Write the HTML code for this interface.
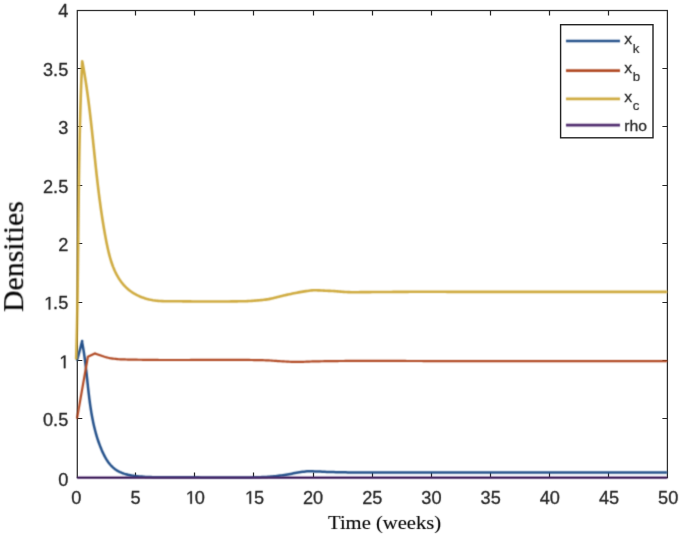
<!DOCTYPE html>
<html><head><meta charset="utf-8"><title>Densities</title>
<style>html,body{margin:0;padding:0;background:#fff;width:685px;height:536px;overflow:hidden;font-family:"Liberation Sans",sans-serif}svg{display:block}</style>
</head><body>
<svg width="685" height="536" viewBox="0 0 685 536">
<defs><filter id="bl" color-interpolation-filters="sRGB" filterUnits="userSpaceOnUse" x="0" y="0" width="685" height="536"><feConvolveMatrix order="3" kernelMatrix="0.04 0.12 0.04 0.12 0.36 0.12 0.04 0.12 0.04" divisor="1" edgeMode="none" preserveAlpha="false"/></filter><filter id="bt" color-interpolation-filters="sRGB" filterUnits="userSpaceOnUse" x="0" y="0" width="685" height="536"><feConvolveMatrix order="3" kernelMatrix="0.01 0.08 0.01 0.08 0.64 0.08 0.01 0.08 0.01" divisor="1" edgeMode="none" preserveAlpha="false"/></filter></defs>
<rect width="685" height="536" fill="#fff"/>
<g>
<rect x="77.30" y="10.50" width="590.10" height="467.10" fill="none" stroke="#2e2e2e" stroke-width="1.25"/>
<path d="M135.50,477.60v-5.00M135.50,10.50v5.00M194.50,477.60v-5.00M194.50,10.50v5.00M253.50,477.60v-5.00M253.50,10.50v5.00M313.50,477.60v-5.00M313.50,10.50v5.00M372.50,477.60v-5.00M372.50,10.50v5.00M431.50,477.60v-5.00M431.50,10.50v5.00M490.50,477.60v-5.00M490.50,10.50v5.00M549.50,477.60v-5.00M549.50,10.50v5.00M608.50,477.60v-5.00M608.50,10.50v5.00M77.30,418.50h5.00M667.40,418.50h-5.00M77.30,360.50h5.00M667.40,360.50h-5.00M77.30,302.50h5.00M667.40,302.50h-5.00M77.30,243.50h5.00M667.40,243.50h-5.00M77.30,185.50h5.00M667.40,185.50h-5.00M77.30,126.50h5.00M667.40,126.50h-5.00M77.30,68.50h5.00M667.40,68.50h-5.00" stroke="#262626" stroke-width="1.2" fill="none"/>
</g>
<g filter="url(#bl)">
<path d="M77.00,360.60 82.20,341.00 L82.20,341.00 82.08,342.19 82.28,343.19 82.47,344.19 82.66,345.20 82.84,346.20 83.02,347.21 83.19,348.22 83.36,349.23 83.53,350.24 83.69,351.26 83.85,352.28 84.00,353.29 84.16,354.31 84.31,355.34 84.45,356.36 84.59,357.39 84.74,358.41 84.87,359.44 85.01,360.47 85.14,361.50 85.27,362.53 85.40,363.57 85.53,364.60 85.65,365.64 85.77,366.67 85.90,367.71 86.02,368.75 86.13,369.79 86.25,370.83 86.37,371.87 86.48,372.92 86.60,373.96 86.71,375.00 86.82,376.05 86.93,377.09 87.05,378.14 87.16,379.18 87.27,380.23 87.38,381.28 87.49,382.32 87.60,383.37 87.72,384.42 87.83,385.47 87.94,386.52 88.06,387.56 88.17,388.61 88.29,389.66 88.41,390.71 88.53,391.76 88.65,392.81 88.77,393.85 88.89,394.90 89.02,395.95 89.14,397.00 89.27,398.04 89.40,399.09 89.54,400.13 89.67,401.18 89.81,402.22 89.95,403.27 90.10,404.31 90.25,405.35 90.40,406.40 90.55,407.44 90.71,408.48 90.87,409.52 91.03,410.55 91.20,411.59 91.37,412.63 91.55,413.66 91.73,414.70 91.91,415.73 92.10,416.76 92.29,417.79 92.49,418.82 92.69,419.84 92.90,420.87 93.11,421.89 93.33,422.92 93.55,423.94 93.78,424.96 94.01,425.97 94.25,426.99 94.49,428.00 94.74,429.02 95.00,430.03 95.26,431.03 95.53,432.04 95.81,433.04 96.09,434.05 96.38,435.04 96.67,436.04 96.97,437.04 97.28,438.03 97.60,439.02 97.92,440.01 98.25,440.99 98.59,441.98 98.94,442.96 99.29,443.94 99.65,444.91 100.02,445.88 100.40,446.85 100.79,447.82 101.18,448.78 101.58,449.75 102.00,450.70 102.42,451.66 102.85,452.61 103.29,453.55 103.75,454.49 104.21,455.41 104.69,456.33 105.18,457.24 105.69,458.14 106.21,459.02 106.75,459.90 107.31,460.75 107.88,461.59 108.47,462.42 109.08,463.22 109.71,464.01 110.36,464.78 111.03,465.52 111.72,466.24 112.44,466.94 113.18,467.62 113.94,468.27 114.73,468.89 115.54,469.49 116.38,470.06 117.25,470.59 118.14,471.10 119.06,471.58 120.00,472.04 120.96,472.46 121.93,472.86 122.93,473.24 123.94,473.59 124.97,473.92 126.01,474.22 127.06,474.50 128.12,474.77 129.19,475.01 130.27,475.23 131.35,475.43 132.44,475.62 133.52,475.79 134.61,475.94 135.70,476.07 136.79,476.19 137.87,476.30 138.94,476.39 140.01,476.47 141.07,476.54 142.12,476.60 143.16,476.65 144.19,476.69 145.00,476.90 L145.00,476.90 146.50,476.95 148.00,477.00 149.50,477.05 151.00,477.10 152.50,477.15 154.00,477.20 155.50,477.24 157.00,477.27 158.50,477.29 160.00,477.30 161.50,477.30 163.00,477.31 164.50,477.31 166.00,477.32 167.50,477.32 169.00,477.32 170.50,477.33 172.00,477.33 173.50,477.33 175.00,477.34 176.50,477.34 178.00,477.34 179.50,477.34 181.00,477.35 182.50,477.35 184.00,477.35 185.50,477.36 187.00,477.36 188.50,477.36 190.00,477.36 191.50,477.36 193.00,477.37 194.50,477.37 196.00,477.37 197.50,477.37 199.00,477.37 200.50,477.38 202.00,477.38 203.50,477.38 205.00,477.38 206.50,477.38 208.00,477.38 209.50,477.38 211.00,477.39 212.50,477.39 214.00,477.39 215.50,477.39 217.00,477.39 218.50,477.39 220.00,477.39 221.50,477.39 223.00,477.39 224.50,477.39 226.00,477.40 227.50,477.40 229.00,477.40 230.50,477.40 232.00,477.40 233.50,477.40 235.00,477.40 236.50,477.40 238.00,477.40 239.50,477.40 241.00,477.40 242.50,477.40 244.00,477.40 245.50,477.40 247.00,477.40 248.50,477.40 250.00,477.40 251.50,477.39 253.00,477.37 254.50,477.34 256.00,477.30 257.50,477.26 259.00,477.21 260.50,477.15 262.00,477.10 263.50,477.04 265.00,476.96 266.50,476.88 268.00,476.78 269.50,476.67 271.00,476.55 272.50,476.42 274.00,476.29 275.50,476.15 277.00,475.99 278.50,475.81 280.00,475.60 281.50,475.38 283.00,475.15 284.50,474.91 286.00,474.66 287.50,474.41 289.00,474.16 290.50,473.92 292.00,473.65 293.50,473.35 295.00,473.06 296.50,472.77 298.00,472.50 299.50,472.27 301.00,472.07 302.50,471.86 304.00,471.67 305.50,471.50 307.00,471.37 308.50,471.30 310.00,471.30 311.50,471.33 313.00,471.36 314.50,471.41 316.00,471.46 317.50,471.51 319.00,471.57 320.50,471.62 322.00,471.68 323.50,471.74 325.00,471.81 326.50,471.88 328.00,471.94 329.50,471.99 331.00,472.03 332.50,472.06 334.00,472.10 335.50,472.14 337.00,472.17 338.50,472.21 340.00,472.24 341.50,472.27 343.00,472.30 344.50,472.33 346.00,472.36 347.50,472.38 349.00,472.41 350.50,472.43 352.00,472.45 353.50,472.46 355.00,472.48 356.50,472.49 358.00,472.50 359.50,472.50 361.00,472.50 362.50,472.50 364.00,472.50 365.50,472.50 367.00,472.51 368.50,472.51 370.00,472.51 371.50,472.51 373.00,472.51 374.50,472.51 376.00,472.51 377.50,472.51 379.00,472.52 380.50,472.52 382.00,472.52 383.50,472.52 385.00,472.52 386.50,472.52 388.00,472.52 389.50,472.52 391.00,472.52 392.50,472.53 394.00,472.53 395.50,472.53 397.00,472.53 398.50,472.53 400.00,472.53 401.50,472.53 403.00,472.53 404.50,472.53 406.00,472.53 407.50,472.54 409.00,472.54 410.50,472.54 412.00,472.54 413.50,472.54 415.00,472.54 416.50,472.54 418.00,472.54 419.50,472.54 421.00,472.54 422.50,472.55 424.00,472.55 425.50,472.55 427.00,472.55 428.50,472.55 430.00,472.55 431.50,472.55 433.00,472.55 434.50,472.55 436.00,472.55 437.50,472.55 439.00,472.55 440.50,472.55 442.00,472.56 443.50,472.56 445.00,472.56 446.50,472.56 448.00,472.56 449.50,472.56 451.00,472.56 452.50,472.56 454.00,472.56 455.50,472.56 457.00,472.56 458.50,472.56 460.00,472.56 461.50,472.56 463.00,472.57 464.50,472.57 466.00,472.57 467.50,472.57 469.00,472.57 470.50,472.57 472.00,472.57 473.50,472.57 475.00,472.57 476.50,472.57 478.00,472.57 479.50,472.57 481.00,472.57 482.50,472.57 484.00,472.57 485.50,472.57 487.00,472.58 488.50,472.58 490.00,472.58 491.50,472.58 493.00,472.58 494.50,472.58 496.00,472.58 497.50,472.58 499.00,472.58 500.50,472.58 502.00,472.58 503.50,472.58 505.00,472.58 506.50,472.58 508.00,472.58 509.50,472.58 511.00,472.58 512.50,472.58 514.00,472.58 515.50,472.58 517.00,472.58 518.50,472.58 520.00,472.58 521.50,472.59 523.00,472.59 524.50,472.59 526.00,472.59 527.50,472.59 529.00,472.59 530.50,472.59 532.00,472.59 533.50,472.59 535.00,472.59 536.50,472.59 538.00,472.59 539.50,472.59 541.00,472.59 542.50,472.59 544.00,472.59 545.50,472.59 547.00,472.59 548.50,472.59 550.00,472.59 551.50,472.59 553.00,472.59 554.50,472.59 556.00,472.59 557.50,472.59 559.00,472.59 560.50,472.59 562.00,472.59 563.50,472.59 565.00,472.59 566.50,472.59 568.00,472.59 569.50,472.59 571.00,472.59 572.50,472.59 574.00,472.60 575.50,472.60 577.00,472.60 578.50,472.60 580.00,472.60 581.50,472.60 583.00,472.60 584.50,472.60 586.00,472.60 587.50,472.60 589.00,472.60 590.50,472.60 592.00,472.60 593.50,472.60 595.00,472.60 596.50,472.60 598.00,472.60 599.50,472.60 601.00,472.60 602.50,472.60 604.00,472.60 605.50,472.60 607.00,472.60 608.50,472.60 610.00,472.60 611.50,472.60 613.00,472.60 614.50,472.60 616.00,472.60 617.50,472.60 619.00,472.60 620.50,472.60 622.00,472.60 623.50,472.60 625.00,472.60 626.50,472.60 628.00,472.60 629.50,472.60 631.00,472.60 632.50,472.60 634.00,472.60 635.50,472.60 637.00,472.60 638.50,472.60 640.00,472.60 641.50,472.60 643.00,472.60 644.50,472.60 646.00,472.60 647.50,472.60 649.00,472.60 650.50,472.60 652.00,472.60 653.50,472.60 655.00,472.60 656.50,472.60 658.00,472.60 659.50,472.60 661.00,472.60 662.50,472.60 664.00,472.60 665.50,472.60 667.00,472.60 667.30,472.60" fill="none" stroke="#23508a" stroke-width="2.50" stroke-linejoin="round" stroke-linecap="butt"/>
<path d="M77.00,418.60 87.90,356.70 94.80,353.40 L94.80,353.40 96.30,353.92 97.80,354.44 99.30,354.96 100.80,355.48 102.30,356.03 103.80,356.54 105.30,357.00 106.80,357.42 108.30,357.78 109.80,358.07 111.30,358.32 112.80,358.54 114.30,358.74 115.80,358.92 117.30,359.09 118.80,359.23 120.30,359.31 121.80,359.37 123.30,359.42 124.80,359.47 126.30,359.51 127.80,359.55 129.30,359.58 130.80,359.61 132.30,359.64 133.80,359.67 135.30,359.69 136.80,359.71 138.30,359.73 139.80,359.75 141.30,359.77 142.80,359.79 144.30,359.81 145.80,359.83 147.30,359.85 148.80,359.87 150.30,359.89 151.80,359.91 153.30,359.92 154.80,359.94 156.30,359.96 157.80,359.97 159.30,359.98 160.80,359.99 162.30,360.00 163.80,360.00 165.30,360.00 166.80,360.00 168.30,360.00 169.80,360.00 171.30,360.00 172.80,360.00 174.30,360.00 175.80,359.99 177.30,359.99 178.80,359.99 180.30,359.99 181.80,359.99 183.30,359.99 184.80,359.98 186.30,359.98 187.80,359.98 189.30,359.98 190.80,359.97 192.30,359.97 193.80,359.97 195.30,359.96 196.80,359.96 198.30,359.96 199.80,359.96 201.30,359.95 202.80,359.95 204.30,359.95 205.80,359.94 207.30,359.94 208.80,359.94 210.30,359.93 211.80,359.93 213.30,359.93 214.80,359.93 216.30,359.92 217.80,359.92 219.30,359.92 220.80,359.92 222.30,359.91 223.80,359.91 225.30,359.91 226.80,359.91 228.30,359.91 229.80,359.91 231.30,359.90 232.80,359.90 234.30,359.90 235.80,359.90 237.30,359.90 238.80,359.90 240.30,359.90 241.80,359.90 243.30,359.91 244.80,359.92 246.30,359.93 247.80,359.94 249.30,359.96 250.80,359.98 252.30,360.00 253.80,360.03 255.30,360.05 256.80,360.08 258.30,360.11 259.80,360.15 261.30,360.18 262.80,360.22 264.30,360.26 265.80,360.29 267.30,360.34 268.80,360.42 270.30,360.51 271.80,360.61 273.30,360.73 274.80,360.84 276.30,360.96 277.80,361.07 279.30,361.16 280.80,361.24 282.30,361.33 283.80,361.42 285.30,361.50 286.80,361.59 288.30,361.67 289.80,361.74 291.30,361.81 292.80,361.85 294.30,361.89 295.80,361.90 297.30,361.90 298.80,361.88 300.30,361.85 301.80,361.82 303.30,361.78 304.80,361.73 306.30,361.68 307.80,361.63 309.30,361.57 310.80,361.52 312.30,361.47 313.80,361.42 315.30,361.38 316.80,361.34 318.30,361.31 319.80,361.29 321.30,361.26 322.80,361.24 324.30,361.22 325.80,361.20 327.30,361.18 328.80,361.16 330.30,361.14 331.80,361.12 333.30,361.10 334.80,361.08 336.30,361.06 337.80,361.04 339.30,361.02 340.80,361.01 342.30,360.99 343.80,360.98 345.30,360.97 346.80,360.95 348.30,360.94 349.80,360.93 351.30,360.92 352.80,360.92 354.30,360.91 355.80,360.91 357.30,360.90 358.80,360.90 360.30,360.90 361.80,360.90 363.30,360.90 364.80,360.90 366.30,360.90 367.80,360.90 369.30,360.90 370.80,360.91 372.30,360.91 373.80,360.91 375.30,360.91 376.80,360.91 378.30,360.91 379.80,360.92 381.30,360.92 382.80,360.92 384.30,360.92 385.80,360.93 387.30,360.93 388.80,360.93 390.30,360.94 391.80,360.94 393.30,360.94 394.80,360.95 396.30,360.95 397.80,360.95 399.30,360.96 400.80,360.96 402.30,360.97 403.80,360.97 405.30,360.97 406.80,360.98 408.30,360.98 409.80,360.99 411.30,360.99 412.80,361.00 414.30,361.00 415.80,361.00 417.30,361.01 418.80,361.01 420.30,361.02 421.80,361.02 423.30,361.03 424.80,361.03 426.30,361.04 427.80,361.04 429.30,361.05 430.80,361.05 432.30,361.06 433.80,361.06 435.30,361.07 436.80,361.07 438.30,361.08 439.80,361.08 441.30,361.09 442.80,361.09 444.30,361.10 445.80,361.10 447.30,361.10 448.80,361.11 450.30,361.11 451.80,361.12 453.30,361.12 454.80,361.13 456.30,361.13 457.80,361.13 459.30,361.14 460.80,361.14 462.30,361.15 463.80,361.15 465.30,361.15 466.80,361.16 468.30,361.16 469.80,361.16 471.30,361.17 472.80,361.17 474.30,361.17 475.80,361.18 477.30,361.18 478.80,361.18 480.30,361.18 481.80,361.19 483.30,361.19 484.80,361.19 486.30,361.19 487.80,361.19 489.30,361.20 490.80,361.20 492.30,361.20 493.80,361.20 495.30,361.20 496.80,361.20 498.30,361.20 499.80,361.20 501.30,361.20 502.80,361.20 504.30,361.20 505.80,361.20 507.30,361.20 508.80,361.20 510.30,361.20 511.80,361.20 513.30,361.20 514.80,361.20 516.30,361.20 517.80,361.20 519.30,361.20 520.80,361.20 522.30,361.20 523.80,361.20 525.30,361.20 526.80,361.20 528.30,361.20 529.80,361.20 531.30,361.20 532.80,361.20 534.30,361.20 535.80,361.20 537.30,361.20 538.80,361.20 540.30,361.20 541.80,361.20 543.30,361.20 544.80,361.20 546.30,361.20 547.80,361.20 549.30,361.20 550.80,361.20 552.30,361.20 553.80,361.20 555.30,361.20 556.80,361.20 558.30,361.20 559.80,361.20 561.30,361.20 562.80,361.20 564.30,361.20 565.80,361.20 567.30,361.20 568.80,361.20 570.30,361.20 571.80,361.20 573.30,361.20 574.80,361.20 576.30,361.20 577.80,361.20 579.30,361.20 580.80,361.20 582.30,361.20 583.80,361.20 585.30,361.20 586.80,361.20 588.30,361.20 589.80,361.20 591.30,361.20 592.80,361.20 594.30,361.20 595.80,361.20 597.30,361.20 598.80,361.20 600.30,361.20 601.80,361.20 603.30,361.20 604.80,361.20 606.30,361.20 607.80,361.20 609.30,361.20 610.80,361.20 612.30,361.20 613.80,361.20 615.30,361.20 616.80,361.20 618.30,361.20 619.80,361.20 621.30,361.20 622.80,361.20 624.30,361.20 625.80,361.20 627.30,361.20 628.80,361.20 630.30,361.20 631.80,361.20 633.30,361.20 634.80,361.20 636.30,361.20 637.80,361.20 639.30,361.20 640.80,361.20 642.30,361.20 643.80,361.20 645.30,361.20 646.80,361.20 648.30,361.20 649.80,361.20 651.30,361.20 652.80,361.20 654.30,361.20 655.80,361.20 657.30,361.20 658.80,361.20 660.30,361.20 661.80,361.20 663.30,361.20 664.80,361.20 666.30,361.20 667.30,361.20" fill="none" stroke="#b04822" stroke-width="2.20" stroke-linejoin="round" stroke-linecap="butt"/>
<path d="M76.20,359.60 76.20,357.72 76.25,355.85 76.31,353.97 76.36,352.09 76.41,350.22 76.46,348.34 76.51,346.46 76.56,344.59 76.61,342.71 76.65,340.83 76.70,338.96 76.75,337.08 76.79,335.20 76.83,333.33 76.87,331.45 76.92,329.57 76.96,327.70 77.00,325.82 77.04,323.94 77.07,322.07 77.11,320.19 77.15,318.31 77.18,316.44 77.22,314.56 77.25,312.68 77.29,310.81 77.32,308.93 77.35,307.05 77.39,305.17 77.42,303.30 77.45,301.42 77.48,299.54 77.51,297.67 77.54,295.79 77.57,293.91 77.59,292.04 77.62,290.16 77.65,288.28 77.68,286.41 77.70,284.53 77.73,282.65 77.75,280.77 77.78,278.90 77.80,277.02 77.83,275.14 77.85,273.27 77.87,271.39 77.90,269.51 77.92,267.63 77.94,265.76 77.96,263.88 77.99,262.00 78.01,260.13 78.03,258.25 78.05,256.37 78.07,254.49 78.09,252.62 78.11,250.74 78.13,248.86 78.15,246.99 78.18,245.11 78.20,243.23 78.22,241.35 78.24,239.48 78.26,237.60 78.28,235.72 78.30,233.85 78.32,231.97 78.34,230.09 78.36,228.21 78.38,226.34 78.40,224.46 78.42,222.58 78.44,220.71 78.46,218.83 78.48,216.95 78.50,215.07 78.52,213.20 78.54,211.32 78.56,209.44 78.58,207.57 78.60,205.69 78.62,203.81 78.65,201.93 78.67,200.06 78.69,198.18 78.71,196.30 78.74,194.43 78.76,192.55 78.79,190.67 78.81,188.80 78.83,186.92 78.86,185.04 78.88,183.16 78.91,181.29 78.94,179.41 78.96,177.53 78.99,175.66 79.02,173.78 79.05,171.90 79.07,170.03 79.10,168.15 79.13,166.27 79.16,164.39 79.20,162.52 79.23,160.64 79.26,158.76 79.29,156.89 79.33,155.01 79.36,153.13 79.39,151.26 79.43,149.38 79.47,147.50 79.50,145.63 79.54,143.75 79.58,141.87 79.62,140.00 79.66,138.12 79.70,136.24 79.74,134.37 79.78,132.49 79.83,130.61 79.87,128.74 79.92,126.86 79.96,124.98 80.01,123.11 80.06,121.23 80.10,119.35 80.15,117.48 80.21,115.60 80.26,113.73 80.31,111.85 80.36,109.97 80.42,108.10 80.47,106.22 80.53,104.34 80.59,102.47 80.65,100.59 80.71,98.72 80.77,96.84 80.83,94.96 80.90,93.09 80.96,91.21 81.03,89.33 81.10,87.46 81.16,85.58 81.23,83.71 81.31,81.83 81.38,79.96 81.45,78.08 81.53,76.20 81.60,74.33 81.68,72.45 81.76,70.58 81.84,68.70 81.92,66.82 82.01,64.95 82.09,63.07 82.20,61.20 L82.20,61.20 82.55,62.78 82.89,64.62 83.22,66.46 83.54,68.30 83.86,70.13 84.17,71.96 84.48,73.79 84.78,75.62 85.07,77.45 85.36,79.27 85.65,81.10 85.93,82.92 86.20,84.74 86.47,86.56 86.74,88.38 87.00,90.20 87.25,92.01 87.51,93.83 87.75,95.64 88.00,97.45 88.24,99.27 88.48,101.08 88.71,102.89 88.94,104.69 89.17,106.50 89.39,108.31 89.61,110.11 89.83,111.92 90.04,113.72 90.25,115.52 90.46,117.33 90.67,119.13 90.88,120.93 91.08,122.73 91.28,124.53 91.48,126.33 91.68,128.13 91.87,129.93 92.07,131.73 92.26,133.52 92.45,135.32 92.65,137.12 92.84,138.91 93.03,140.71 93.21,142.51 93.40,144.30 93.59,146.10 93.78,147.90 93.97,149.69 94.15,151.49 94.34,153.28 94.53,155.08 94.72,156.88 94.91,158.67 95.10,160.47 95.29,162.27 95.48,164.06 95.67,165.86 95.86,167.66 96.06,169.46 96.25,171.26 96.45,173.06 96.65,174.86 96.85,176.66 97.06,178.46 97.26,180.26 97.47,182.06 97.68,183.86 97.89,185.67 98.11,187.47 98.33,189.28 98.55,191.08 98.77,192.89 99.00,194.70 99.23,196.51 99.46,198.32 99.70,200.13 99.94,201.94 100.19,203.76 100.44,205.57 100.69,207.39 100.95,209.20 101.21,211.02 101.48,212.84 101.75,214.66 102.02,216.48 102.30,218.31 102.59,220.13 102.88,221.96 103.18,223.79 103.48,225.62 103.78,227.45 104.10,229.28 104.42,231.12 104.74,232.95 105.07,234.79 105.41,236.63 105.75,238.48 106.10,240.32 106.46,242.16 106.83,244.00 107.21,245.84 107.60,247.68 108.01,249.51 108.43,251.33 108.87,253.14 109.33,254.94 109.81,256.73 110.32,258.50 110.85,260.26 111.40,262.01 111.98,263.73 112.59,265.44 113.23,267.12 113.91,268.78 114.61,270.42 115.35,272.03 116.13,273.61 116.95,275.17 117.81,276.69 118.70,278.18 119.65,279.64 120.63,281.07 121.66,282.45 122.74,283.80 123.87,285.11 125.05,286.38 126.28,287.60 127.57,288.78 128.91,289.92 130.31,291.01 131.77,292.04 133.29,293.03 134.87,293.97 136.51,294.85 138.19,295.68 139.93,296.46 141.70,297.17 143.50,297.83 145.33,298.42 147.19,298.96 149.05,299.43 150.93,299.84 152.81,300.19 154.70,300.47 156.58,300.71 158.47,300.90 160.35,301.04 162.22,301.15 164.08,301.22 165.92,301.26 167.76,301.29 169.57,301.29 171.36,301.28 173.14,301.26 174.88,301.24 176.60,301.22 178.29,301.21 180.00,301.30 L180.00,301.30 181.50,301.32 183.00,301.34 184.50,301.36 186.00,301.37 187.50,301.39 189.00,301.40 190.50,301.42 192.00,301.43 193.50,301.44 195.00,301.45 196.50,301.46 198.00,301.46 199.50,301.47 201.00,301.48 202.50,301.48 204.00,301.49 205.50,301.49 207.00,301.49 208.50,301.50 210.00,301.50 211.50,301.50 213.00,301.50 214.50,301.50 216.00,301.50 217.50,301.50 219.00,301.49 220.50,301.49 222.00,301.48 223.50,301.47 225.00,301.46 226.50,301.45 228.00,301.44 229.50,301.43 231.00,301.41 232.50,301.39 234.00,301.38 235.50,301.36 237.00,301.33 238.50,301.31 240.00,301.29 241.50,301.26 243.00,301.24 244.50,301.21 246.00,301.18 247.50,301.12 249.00,301.05 250.50,300.97 252.00,300.87 253.50,300.76 255.00,300.64 256.50,300.52 258.00,300.40 259.50,300.27 261.00,300.12 262.50,299.96 264.00,299.78 265.50,299.59 267.00,299.37 268.50,299.14 270.00,298.86 271.50,298.55 273.00,298.21 274.50,297.84 276.00,297.46 277.50,297.07 279.00,296.67 280.50,296.28 282.00,295.90 283.50,295.54 285.00,295.20 286.50,294.88 288.00,294.55 289.50,294.22 291.00,293.90 292.50,293.58 294.00,293.26 295.50,292.96 297.00,292.66 298.50,292.38 300.00,292.12 301.50,291.87 303.00,291.64 304.50,291.40 306.00,291.15 307.50,290.91 309.00,290.69 310.50,290.50 312.00,290.37 313.50,290.30 315.00,290.30 316.50,290.32 318.00,290.36 319.50,290.41 321.00,290.47 322.50,290.53 324.00,290.60 325.50,290.68 327.00,290.75 328.50,290.83 330.00,290.90 331.50,290.98 333.00,291.07 334.50,291.17 336.00,291.28 337.50,291.40 339.00,291.52 340.50,291.64 342.00,291.75 343.50,291.86 345.00,291.96 346.50,292.04 348.00,292.11 349.50,292.16 351.00,292.19 352.50,292.20 354.00,292.20 355.50,292.19 357.00,292.19 358.50,292.18 360.00,292.17 361.50,292.16 363.00,292.15 364.50,292.13 366.00,292.12 367.50,292.11 369.00,292.09 370.50,292.08 372.00,292.06 373.50,292.05 375.00,292.04 376.50,292.02 378.00,292.01 379.50,292.00 381.00,291.99 382.50,291.98 384.00,291.98 385.50,291.97 387.00,291.96 388.50,291.95 390.00,291.94 391.50,291.93 393.00,291.92 394.50,291.91 396.00,291.90 397.50,291.89 399.00,291.88 400.50,291.87 402.00,291.86 403.50,291.85 405.00,291.84 406.50,291.84 408.00,291.83 409.50,291.82 411.00,291.82 412.50,291.81 414.00,291.81 415.50,291.80 417.00,291.80 418.50,291.80 420.00,291.80 421.50,291.80 423.00,291.80 424.50,291.80 426.00,291.80 427.50,291.80 429.00,291.80 430.50,291.80 432.00,291.81 433.50,291.81 435.00,291.81 436.50,291.81 438.00,291.81 439.50,291.81 441.00,291.82 442.50,291.82 444.00,291.82 445.50,291.82 447.00,291.83 448.50,291.83 450.00,291.83 451.50,291.83 453.00,291.84 454.50,291.84 456.00,291.84 457.50,291.85 459.00,291.85 460.50,291.85 462.00,291.85 463.50,291.86 465.00,291.86 466.50,291.86 468.00,291.86 469.50,291.87 471.00,291.87 472.50,291.87 474.00,291.88 475.50,291.88 477.00,291.88 478.50,291.88 480.00,291.88 481.50,291.89 483.00,291.89 484.50,291.89 486.00,291.89 487.50,291.89 489.00,291.89 490.50,291.90 492.00,291.90 493.50,291.90 495.00,291.90 496.50,291.90 498.00,291.90 499.50,291.90 501.00,291.90 502.50,291.90 504.00,291.90 505.50,291.90 507.00,291.90 508.50,291.90 510.00,291.90 511.50,291.90 513.00,291.90 514.50,291.90 516.00,291.90 517.50,291.90 519.00,291.90 520.50,291.90 522.00,291.90 523.50,291.90 525.00,291.90 526.50,291.90 528.00,291.90 529.50,291.90 531.00,291.90 532.50,291.90 534.00,291.90 535.50,291.90 537.00,291.90 538.50,291.90 540.00,291.90 541.50,291.90 543.00,291.90 544.50,291.90 546.00,291.90 547.50,291.90 549.00,291.90 550.50,291.90 552.00,291.90 553.50,291.90 555.00,291.90 556.50,291.90 558.00,291.90 559.50,291.90 561.00,291.90 562.50,291.90 564.00,291.90 565.50,291.90 567.00,291.90 568.50,291.90 570.00,291.90 571.50,291.90 573.00,291.90 574.50,291.90 576.00,291.90 577.50,291.90 579.00,291.90 580.50,291.90 582.00,291.90 583.50,291.90 585.00,291.90 586.50,291.90 588.00,291.90 589.50,291.90 591.00,291.90 592.50,291.90 594.00,291.90 595.50,291.90 597.00,291.90 598.50,291.90 600.00,291.90 601.50,291.90 603.00,291.90 604.50,291.90 606.00,291.90 607.50,291.90 609.00,291.90 610.50,291.90 612.00,291.90 613.50,291.90 615.00,291.90 616.50,291.90 618.00,291.90 619.50,291.90 621.00,291.90 622.50,291.90 624.00,291.90 625.50,291.90 627.00,291.90 628.50,291.90 630.00,291.90 631.50,291.90 633.00,291.90 634.50,291.90 636.00,291.90 637.50,291.90 639.00,291.90 640.50,291.90 642.00,291.90 643.50,291.90 645.00,291.90 646.50,291.90 648.00,291.90 649.50,291.90 651.00,291.90 652.50,291.90 654.00,291.90 655.50,291.90 657.00,291.90 658.50,291.90 660.00,291.90 661.50,291.90 663.00,291.90 664.50,291.90 666.00,291.90 667.30,291.90" fill="none" stroke="#cfab40" stroke-width="2.60" stroke-linejoin="round" stroke-linecap="butt"/>
<path d="M77.10,477.60 667.30,477.60" fill="none" stroke="#4f2b6e" stroke-width="2.20" stroke-linejoin="round" stroke-linecap="butt"/>
</g>
<g filter="url(#bt)">
<g font-family="Liberation Sans, sans-serif" font-size="18.2" fill="#262626" stroke="#262626" stroke-width="0.30"><text x="71.34" y="503.80">0</text><text x="130.52" y="503.80">5</text><path d="M639,0L639,1237L321,1010L321,1180L654,1409L820,1409L820,0Z" transform="translate(184.64,503.80) scale(0.00889,-0.00889)" vector-effect="non-scaling-stroke"/><text x="194.76" y="503.80">0</text><path d="M639,0L639,1237L321,1010L321,1180L654,1409L820,1409L820,0Z" transform="translate(243.82,503.80) scale(0.00889,-0.00889)" vector-effect="non-scaling-stroke"/><text x="253.94" y="503.80">5</text><text x="303.00" y="503.80">20</text><text x="362.18" y="503.80">25</text><text x="421.36" y="503.80">30</text><text x="480.54" y="503.80">35</text><text x="539.72" y="503.80">40</text><text x="598.90" y="503.80">45</text><text x="658.08" y="503.80">50</text><text x="58.18" y="485.70">0</text><text x="43.00" y="426.27">0.5</text><path d="M639,0L639,1237L321,1010L321,1180L654,1409L820,1409L820,0Z" transform="translate(58.18,368.15) scale(0.00889,-0.00889)" vector-effect="non-scaling-stroke"/><path d="M639,0L639,1237L321,1010L321,1180L654,1409L820,1409L820,0Z" transform="translate(43.00,309.43) scale(0.00889,-0.00889)" vector-effect="non-scaling-stroke"/><text x="53.12" y="309.43">.5</text><text x="58.18" y="251.00">2</text><text x="43.00" y="192.57">2.5</text><text x="58.18" y="134.15">3</text><text x="43.00" y="75.73">3.5</text><text x="58.18" y="17.30">4</text></g>
<text transform="translate(384.6,528.7) scale(1.146,1)" text-anchor="middle" font-family="Liberation Serif, serif" font-size="18" fill="#000" stroke="#000" stroke-width="0.12">Time (weeks)</text>
<text transform="translate(23.2,256.5) rotate(-90)" x="0" y="0" text-anchor="middle" font-family="Liberation Serif, serif" font-size="29.8" fill="#000" stroke="#000" stroke-width="0.15">Densities</text>
</g>
<rect x="560.6" y="24.7" width="92.4" height="113.1" fill="#fff"/>
<rect x="560.6" y="24.7" width="92.4" height="113.1" fill="none" stroke="#222" stroke-width="1.4"/>
<g filter="url(#bl)">
<line x1="566" y1="41.00" x2="620" y2="41.00" stroke="#23508a" stroke-width="2.7"/>
<line x1="566" y1="70.60" x2="620" y2="70.60" stroke="#b04822" stroke-width="2.7"/>
<line x1="566" y1="98.80" x2="620" y2="98.80" stroke="#cfab40" stroke-width="2.7"/>
<line x1="566" y1="125.10" x2="620" y2="125.10" stroke="#4f2b6e" stroke-width="2.7"/>
</g>
<g filter="url(#bt)">
<text transform="translate(624.2,44.40) scale(1.07,1)" font-family="Liberation Sans, sans-serif" font-size="14.8" fill="#262626" stroke="#262626" stroke-width="0.25">x</text>
<text x="632.8" y="52.50" font-family="Liberation Sans, sans-serif" font-size="13.3" fill="#262626" stroke="#262626" stroke-width="0.2">k</text>
<text transform="translate(624.2,72.60) scale(1.07,1)" font-family="Liberation Sans, sans-serif" font-size="14.8" fill="#262626" stroke="#262626" stroke-width="0.25">x</text>
<text x="632.8" y="80.80" font-family="Liberation Sans, sans-serif" font-size="13.3" fill="#262626" stroke="#262626" stroke-width="0.2">b</text>
<text transform="translate(624.2,102.40) scale(1.07,1)" font-family="Liberation Sans, sans-serif" font-size="14.8" fill="#262626" stroke="#262626" stroke-width="0.25">x</text>
<text x="632.8" y="110.10" font-family="Liberation Sans, sans-serif" font-size="13.3" fill="#262626" stroke="#262626" stroke-width="0.2">c</text>
<text transform="translate(624.2,130.70) scale(1.07,1)" font-family="Liberation Sans, sans-serif" font-size="14.8" fill="#262626" stroke="#262626" stroke-width="0.25">rho</text>
</g>
</svg>
</body></html>
